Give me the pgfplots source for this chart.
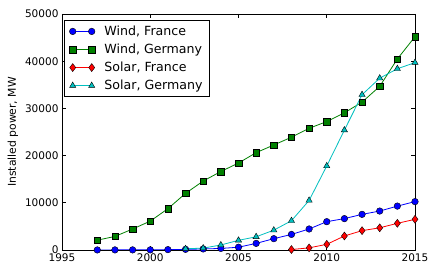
\documentclass[border=0pt]{standalone}
\usepackage{fontspec}
\setmainfont{DejaVu Sans}
\usepackage{pgfplots}
\pgfplotsset{compat=1.18}
\definecolor{mblue}{rgb}{0,0,1}
\definecolor{mgreen}{rgb}{0,0.5,0}
\definecolor{mred}{rgb}{1,0,0}
\definecolor{mcyan}{rgb}{0,0.75,0.75}
\begin{document}
\begin{tikzpicture}
\begin{axis}[
  name=ax,
  scale only axis, width=353pt, height=236pt,
  xmin=1995, xmax=2015, ymin=0, ymax=50000,
  xtick={1995,2000,...,2015}, ytick={0,10000,...,50000},
  /pgf/number format/1000 sep={},
  /pgf/number format/assume math mode=true,
  scaled y ticks=false, scaled x ticks=false,
  tick label style={font=\fontsize{10.5}{12}\selectfont},
  label style={font=\fontsize{10.8}{12}\selectfont},
  ylabel={Installed power, MW},
  tick align=inside, major tick length=4pt,
  tick style={black, line width=0.6pt},
  axis line style={line width=0.8pt},
  legend cell align=left,
  legend style={at={(0,1)}, anchor=north west, xshift=2pt, yshift=-6pt,
    draw=black, line width=0.8pt, font=\fontsize{12.6}{14}\selectfont,
    inner xsep=5pt, inner ysep=3.5pt, row sep=3pt, column sep=7.5pt},
  legend image code/.code={\draw[mark repeat=1] plot coordinates {(0pt,0pt) (19pt,0pt)};},
]
\addplot[mblue, line width=0.8pt, mark=*, mark size=3.3pt, mark options={draw=black, fill=mblue, line width=0.4pt}] coordinates {
(1997,10) (1998,20) (1999,25) (2000,30) (2001,80) (2002,140) (2003,220) (2004,330) (2005,590)
(2006,1400) (2007,2400) (2008,3300) (2009,4450) (2010,6000) (2011,6650) (2012,7550) (2013,8250)
(2014,9300) (2015,10250)};
\addlegendentry{Wind, France}
\addplot[mgreen, line width=0.8pt, mark=square*, mark size=3.2pt, mark options={draw=black, fill=mgreen, line width=0.4pt}] coordinates {
(1997,2080) (1998,2875) (1999,4444) (2000,6113) (2001,8754) (2002,11994) (2003,14609) (2004,16629)
(2005,18428) (2006,20622) (2007,22247) (2008,23895) (2009,25777) (2010,27214) (2011,29060)
(2012,31332) (2013,34660) (2014,40468) (2015,45192)};
\addlegendentry{Wind, Germany}
\addplot[mred, line width=0.8pt, mark=diamond*, mark size=4pt, mark options={draw=black, fill=mred, line width=0.4pt}] coordinates {
(2008,100) (2009,450) (2010,1200) (2011,2970) (2012,4100) (2013,4700) (2014,5650) (2015,6500)};
\addlegendentry{Solar, France}
\addplot[mcyan, line width=0.8pt, mark=triangle*, mark size=3.6pt, mark options={draw=black, fill=mcyan, line width=0.4pt}] coordinates {
(2002,260) (2003,400) (2004,1060) (2005,2050) (2006,2800) (2007,4200) (2008,6200) (2009,10500)
(2010,17800) (2011,25400) (2012,32900) (2013,36400) (2014,38400) (2015,39700)};
\addlegendentry{Solar, Germany}
\end{axis}
\pgfresetboundingbox
\path[use as bounding box] ([xshift=-62pt,yshift=-14pt]ax.south west) rectangle ([xshift=13pt,yshift=14pt]ax.north east);
\end{tikzpicture}
\end{document}
